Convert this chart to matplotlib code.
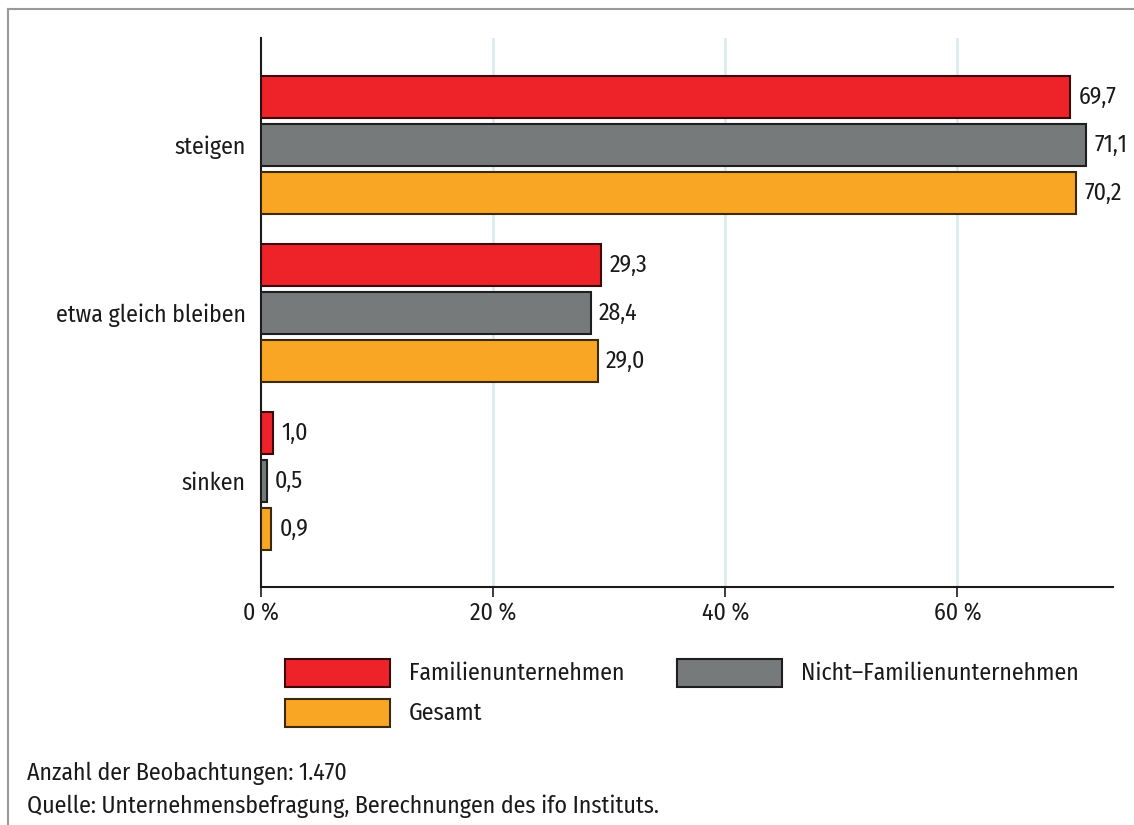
import matplotlib.pyplot as plt
from matplotlib.patches import Rectangle
from matplotlib.lines import Line2D

categories = ['steigen', 'etwa gleich bleiben', 'sinken']
series_names = ['Familienunternehmen', 'Nicht\u2013Familienunternehmen', 'Gesamt']
familien = [69.7, 29.3, 1.0]
nicht_familien = [71.1, 28.4, 0.5]
gesamt = [70.2, 29.0, 0.9]
x_ticks = [0, 20, 40, 60]
x_ticklabels = ['0 %', '20 %', '40 %', '60 %']
notes = ['Anzahl der Beobachtungen: 1.470',
         'Quelle: Unternehmensbefragung, Berechnungen des ifo Instituts.']

colors = ['#ee2229', '#777a7a', '#f8a623']
edges = ['#3a0a0a', '#1e1e1e', '#3a2a08']

plt.rcParams['font.family'] = ['Fira Sans Condensed', 'DejaVu Sans']
fs = 17.2

fig = plt.figure(figsize=(11.34, 8.25), dpi=100)
ax = fig.add_axes([0.2302, 0.2885, 0.9815 - 0.2302, 0.9539 - 0.2885])

bar_h = 0.25
offsets = [-0.286, 0.0, 0.286]
all_series = [familien, nicht_familien, gesamt]
for s, vals in enumerate(all_series):
    ys = [i + offsets[s] for i in range(len(categories))]
    ax.barh(ys, vals, height=bar_h, color=colors[s], edgecolor=edges[s],
            linewidth=1.5, zorder=3)
    for y, v in zip(ys, vals):
        ax.annotate(f'{v:.1f}'.replace('.', ','), (v, y), xytext=(6, 0),
                    textcoords='offset points', va='center', ha='left',
                    fontsize=fs, color='#1a1a1a', annotation_clip=False)

ax.set_xlim(0, 73.4)
ax.set_ylim(2.631, -0.637)
ax.set_yticks(range(len(categories)))
ax.set_yticklabels(categories, fontsize=fs, color='#1a1a1a')
ax.set_xticks(x_ticks)
ax.set_xticklabels(x_ticklabels, fontsize=fs, color='#1a1a1a')
ax.tick_params(axis='y', length=0, pad=11)
ax.tick_params(axis='x', length=7, width=1.2, color='#1a1a1a', pad=4)
for t in x_ticks[1:]:
    ax.axvline(t, color='#dcebed', linewidth=2, zorder=0)
for side in ['top', 'right']:
    ax.spines[side].set_visible(False)
for side in ['left', 'bottom']:
    ax.spines[side].set_linewidth(1.5)
    ax.spines[side].set_color('#1a1a1a')

# legend drawn by hand: two entries on the first row, one below
W, H = 1134, 825
leg_pos = [(285, 659), (677, 659), (285, 699)]
for s, (lx, ly) in enumerate(leg_pos):
    fig.add_artist(Rectangle((lx / W, 1 - (ly + 28) / H), 105 / W, 28 / H,
                             transform=fig.transFigure, facecolor=colors[s],
                             edgecolor=edges[s], linewidth=1.5))
    fig.text((lx + 124) / W, 1 - (ly + 14) / H, series_names[s],
             fontsize=fs, va='center', ha='left', color='#1a1a1a')

for k, line in enumerate(notes):
    fig.text(27 / W, 1 - (773 + 33 * k) / H, line, fontsize=fs,
             va='center', ha='left', color='#1a1a1a')

# outer frame lines
fig.add_artist(Line2D([8 / W, 1.0], [1 - 9 / H, 1 - 9 / H],
                      transform=fig.transFigure, color='#9a9a9a', linewidth=1.5))
fig.add_artist(Line2D([8 / W, 8 / W], [0, 1 - 9 / H],
                      transform=fig.transFigure, color='#9a9a9a', linewidth=1.5))

fig.savefig('out.png', dpi=100)
